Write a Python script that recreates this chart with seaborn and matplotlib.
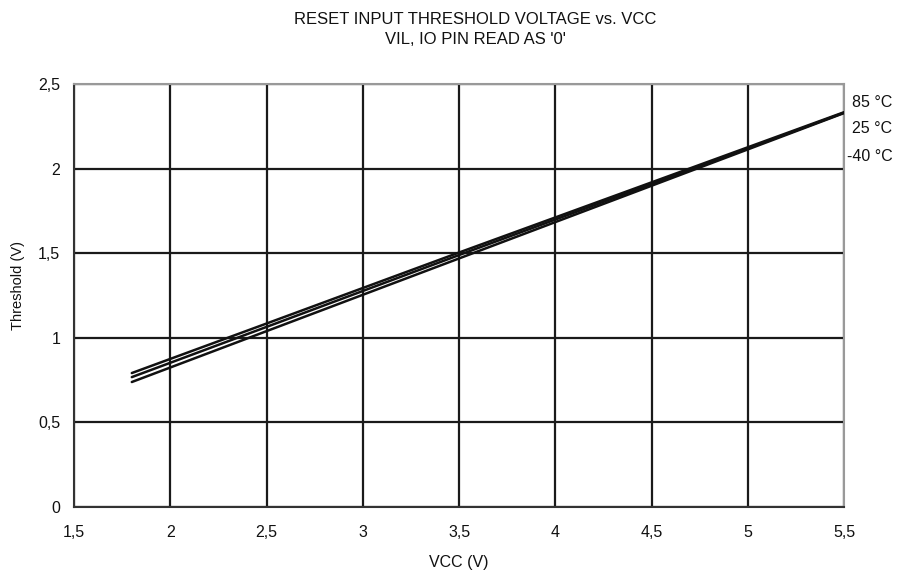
import numpy as np
import pandas as pd
import matplotlib
matplotlib.use('Agg')
import matplotlib.pyplot as plt
import seaborn as sns

sns.set_style("white")
plt.rcParams['font.family'] = ['Liberation Sans', 'DejaVu Sans']
plt.rcParams['text.color'] = '#111111'
plt.rcParams['axes.labelcolor'] = '#111111'
plt.rcParams['xtick.color'] = '#111111'
plt.rcParams['ytick.color'] = '#111111'

# Data
vcc = [1.8, 2.5, 3.5, 4.5, 5.5]
th_85 = [0.792, 1.085, 1.505, 1.92, 2.335]
th_25 = [0.768, 1.065, 1.49, 1.91, 2.332]
th_m40 = [0.739, 1.04, 1.47, 1.90, 2.33]
series_names = ['85 °C', '25 °C', '-40 °C']
label_x = [5.54, 5.54, 5.516]
label_y = [2.394, 2.24, 2.07]

x_ticks = [1.5, 2, 2.5, 3, 3.5, 4, 4.5, 5, 5.5]
x_tick_labels = ['1,5', '2', '2,5', '3', '3,5', '4', '4,5', '5', '5,5']
y_ticks = [0, 0.5, 1, 1.5, 2, 2.5]
y_tick_labels = ['0', '0,5', '1', '1,5', '2', '2,5']

df = pd.DataFrame({
    'VCC': vcc * 3,
    'Threshold': th_85 + th_25 + th_m40,
    'Temp': [series_names[0]] * len(vcc) + [series_names[1]] * len(vcc) + [series_names[2]] * len(vcc),
})

fig = plt.figure(figsize=(9.03, 5.76), dpi=100)
ax = fig.add_axes([0.082, 0.1198, 0.853, 0.734])

sns.lineplot(data=df, x='VCC', y='Threshold', units='Temp', estimator=None,
             color='#111111', linewidth=1.8, legend=False, ax=ax, zorder=3)

ax.set_xlim(1.5, 5.5)
ax.set_ylim(0, 2.5)
ax.set_xticks(x_ticks)
ax.set_xticklabels(x_tick_labels, fontsize=11.5)
ax.set_yticks(y_ticks)
ax.set_yticklabels(y_tick_labels, fontsize=11.5)
ax.grid(True, color='#1a1a1a', linewidth=1.6)
ax.set_axisbelow(True)
for side in ['top', 'right']:
    ax.spines[side].set_color('#999999')
    ax.spines[side].set_linewidth(1.5)
for side in ['left', 'bottom']:
    ax.spines[side].set_color('#333333')
    ax.spines[side].set_linewidth(1.5)
ax.tick_params(axis='x', length=3, width=1, pad=10, color='#333333')
ax.tick_params(axis='y', length=3, width=1, pad=7, color='#333333')

ax.set_xlabel('VCC (V)', fontsize=11.5, labelpad=11)
ax.set_ylabel('Threshold (V)', fontsize=10.5)
ax.yaxis.set_label_coords(-0.064, 0.525)

for name, x, y in zip(series_names, label_x, label_y):
    ax.text(x, y, name, fontsize=11.5, va='center', ha='left', clip_on=False)

fig.text(0.526, 0.967, "RESET INPUT THRESHOLD VOLTAGE vs. VCC",
         ha='center', va='center', fontsize=12)
fig.text(0.526, 0.932, "VIL, IO PIN READ AS '0'",
         ha='center', va='center', fontsize=12)

fig.savefig('out.png', dpi=100)
